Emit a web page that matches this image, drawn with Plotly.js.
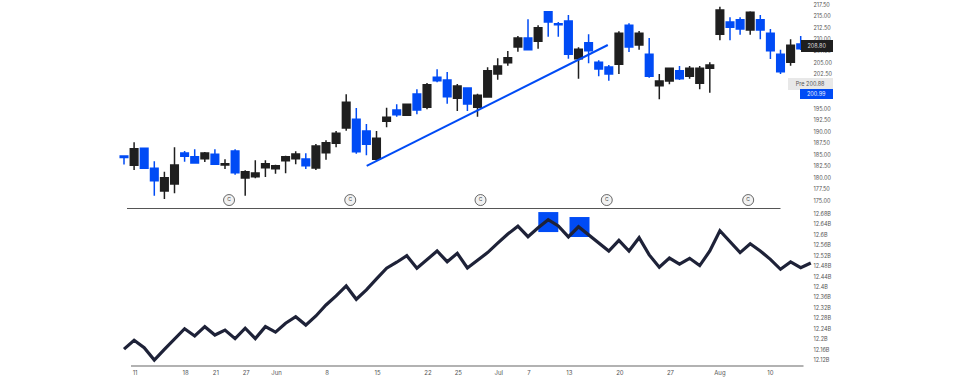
<!DOCTYPE html>
<html><head><meta charset="utf-8">
<script src="https://cdn.plot.ly/plotly-3.0.1.min.js"></script>
<style>html,body{margin:0;padding:0;background:#fff}</style></head>
<body><div id="chart" style="width:960px;height:378px"></div>
<script>
const blueCandles=[0,2,3,6,7,9,11,18,23,24,27,29,31,32,34,40,42,43,44,46,47,48,50,52,55,60,61,63,64,65,67];
const high=[184.76,187.73,186.43,183.61,181.36,186.65,185.84,186.21,185.63,186.21,184.04,186.21,181.66,183.83,183.83,182.87,184.82,185.78,185.34,187.36,188.16,190.18,198.14,195.17,191.70,190.18,195.23,195.97,196.03,199.22,200.59,203.56,202.97,200.37,199.50,198.27,203.99,205.94,207.52,210.78,214.40,213.09,216.04,213.81,215.33,208.33,211.14,205.51,204.49,211.79,213.53,211.86,210.34,202.54,203.77,204.27,204.27,204.27,205.07,217.13,214.83,214.83,216.13,215.33,212.29,207.81,210.06,210.78];
const bodyTop=[184.76,186.34,186.43,182.09,180.05,182.81,185.41,184.61,185.41,185.13,183.09,185.84,181.36,181.07,183.09,182.66,184.61,185.19,184.11,186.93,187.64,189.68,196.40,192.72,190.18,188.60,193.15,194.73,195.97,198.20,200.22,201.82,201.24,199.94,199.50,197.92,203.25,204.27,206.07,210.34,210.34,212.57,216.04,213.44,214.03,207.89,209.32,205.07,204.05,211.36,213.09,211.36,206.81,201.02,203.77,203.25,203.77,203.77,204.49,216.41,213.81,214.31,215.91,214.31,211.36,206.81,208.76,209.04];
const bodyBottom=[184.43,182.74,182.09,179.40,177.17,178.69,184.70,183.24,184.17,182.96,182.81,181.14,179.99,180.27,182.22,182.01,183.74,184.17,182.66,182.16,185.47,187.51,190.83,185.69,187.30,184.04,192.28,193.71,193.58,194.73,195.32,201.08,197.62,197.27,196.03,195.32,197.55,202.54,204.99,208.39,207.81,209.63,213.81,213.23,206.81,205.85,207.59,203.62,202.54,204.64,208.39,208.82,202.04,200.00,201.02,201.52,202.04,200.52,203.77,211.14,212.66,212.29,212.08,212.08,207.59,203.04,205.07,208.02];
const low=[182.92,181.72,181.94,176.15,175.44,176.67,183.52,183.24,183.46,182.96,181.94,180.71,176.15,179.92,180.21,180.92,181.01,182.96,181.94,181.72,183.96,186.65,190.24,185.26,184.91,183.67,190.98,193.28,193.54,193.80,194.88,200.74,196.10,194.52,194.52,193.28,197.55,201.30,204.34,207.37,207.74,208.02,210.62,210.62,205.85,201.52,204.86,202.04,201.08,202.54,207.31,207.81,201.73,197.05,200.30,201.24,201.52,199.22,198.48,209.84,209.84,211.06,211.06,210.06,205.79,202.54,204.34,207.74];
const lineValues=[12.162,12.196,12.167,12.120,12.161,12.202,12.240,12.212,12.248,12.216,12.235,12.202,12.242,12.202,12.248,12.227,12.261,12.286,12.254,12.289,12.331,12.366,12.404,12.353,12.389,12.431,12.472,12.495,12.520,12.472,12.504,12.538,12.497,12.529,12.473,12.502,12.532,12.568,12.603,12.633,12.593,12.627,12.658,12.634,12.592,12.631,12.599,12.568,12.538,12.579,12.538,12.589,12.523,12.476,12.511,12.488,12.510,12.482,12.538,12.616,12.574,12.532,12.566,12.538,12.506,12.468,12.496,12.474,12.492];
const dateTickIndex=[1.1,6.1,9.1,12.1,15.1,20.1,25.1,30.1,33.1,37.1,40.1,44.1,49.1,54.1,59,64];
const dateTickLabels=['11','18','21','27','Jun','8','15','22','25','Jul','7','13','20','27','Aug','10'];
const priceTicks=[175,177.5,180,182.5,185,187.5,190,192.5,195,202.5,205,207.5,210,212.5,215,217.5];
const priceTickLabels=priceTicks.map(v=>v.toFixed(2));
const volumeTicks=[12.12,12.16,12.2,12.24,12.28,12.32,12.36,12.4,12.44,12.48,12.52,12.56,12.6,12.64,12.68];
const volumeTickLabels=['12.12B','12.16B','12.2B','12.24B','12.28B','12.32B','12.36B','12.4B','12.44B','12.48B','12.52B','12.56B','12.6B','12.64B','12.68B'];
const trendX=[24.03,47.9];
const trendY=[182.6,208.82];
const eventX=[10.4,22.4,35.3,47.8,61.8];
const eventY=[175.2,175.2,175.2,175.2,175.2];
const squareX=[42.01,45.1];
const squareY=[12.649,12.630];

const DARK='#1f1f1f',BLUE='#004BF5',W=960,H=378;
const idx=high.map((_,i)=>i);
const isBlue=i=>blueCandles.includes(i);
const open=idx.map(i=>isBlue(i)?bodyTop[i]:bodyBottom[i]);
const close=idx.map(i=>isBlue(i)?bodyBottom[i]:bodyTop[i]);
const tag=(x0,x1,y0,y1,text,bg,color,align)=>({xref:'paper',yref:'paper',xanchor:'left',yanchor:'top',
  x:x0/W,y:1-y0/366,width:x1-x0,height:y1-y0,text:text,showarrow:false,bgcolor:bg,align:align||'center',borderpad:0,borderwidth:0,
  font:{family:'Inter',size:5.5,color:color}});

Plotly.newPlot('chart',[
 {type:'candlestick',x:idx,open:open,high:high,low:low,close:close,xaxis:'x',yaxis:'y',whiskerwidth:0,
  increasing:{line:{color:DARK,width:1.5},fillcolor:DARK},decreasing:{line:{color:BLUE,width:1.5},fillcolor:BLUE},hoverinfo:'skip'},
 {type:'scatter',mode:'lines',x:trendX,y:trendY,xaxis:'x',yaxis:'y',line:{color:BLUE,width:2},hoverinfo:'skip'},
 {type:'scatter',mode:'markers+text',x:eventX,y:eventY,xaxis:'x',yaxis:'y',text:eventX.map(()=>'C'),textposition:'middle center',
  textfont:{family:'Inter',size:5,color:'#444'},marker:{symbol:'circle',size:11,color:'#f2f2f2',line:{color:'#444',width:0.8}},hoverinfo:'skip'},
 {type:'scatter',mode:'markers',x:squareX,y:squareY,xaxis:'x',yaxis:'y2',marker:{symbol:'square',size:20,color:BLUE,line:{width:0}},hoverinfo:'skip'},
 {type:'scatter',mode:'lines',x:lineValues.map((_,i)=>i),y:lineValues,xaxis:'x',yaxis:'y2',line:{color:'#1E2238',width:3.2,shape:'linear'},hoverinfo:'skip'}
],{
 width:W,height:H,margin:{l:0,r:0,t:0,b:12,pad:0},showlegend:false,paper_bgcolor:'#fff',plot_bgcolor:'#fff',boxgap:0.25,boxgroupgap:0,
 font:{family:'Inter',size:5.5,color:'#555'},
 xaxis:{range:[-12.277,82.772],domain:[0,1],anchor:'y2',showgrid:false,zeroline:false,showline:false,ticks:'',rangeslider:{visible:false},
   tickmode:'array',tickvals:dateTickIndex,ticktext:dateTickLabels,tickfont:{family:'Inter',size:6,color:'#555'},ticklabelstandoff:2},
 yaxis:{domain:[159/366,1],range:[173.69,218.58],anchor:'free',position:812.5/960,side:'right',showgrid:false,zeroline:false,showline:false,ticks:'',
   tickmode:'array',tickvals:priceTicks,ticktext:priceTickLabels,tickfont:{family:'Inter',size:5.5,color:'#555'}},
 yaxis2:{domain:[0,159/366],range:[12.0971,12.7068],anchor:'free',position:812.5/960,side:'right',showgrid:false,zeroline:false,showline:false,ticks:'',
   tickmode:'array',tickvals:volumeTicks,ticktext:volumeTickLabels,tickfont:{family:'Inter',size:5.5,color:'#555'}},
 shapes:[
  {type:'line',xref:'paper',yref:'paper',x0:127/W,x1:780.5/W,y0:1-208.5/366,y1:1-208.5/366,line:{color:'#555',width:1}},
  {type:'line',xref:'paper',yref:'paper',x0:131/W,x1:803.5/W,y0:0,y1:0,line:{color:'#999',width:1.5}}
 ],
 annotations:[
  tag(801,833,40,51.7,'208.80','#1f1f1f','#ddd'),
  tag(788,833,77.7,89.3,'Pre 200.88','#e8e8e8','#555'),
  tag(800,833,89.3,99.3,'200.99',BLUE,'#e8eeff')
 ]
},{displayModeBar:false,staticPlot:true});
</script></body></html>
